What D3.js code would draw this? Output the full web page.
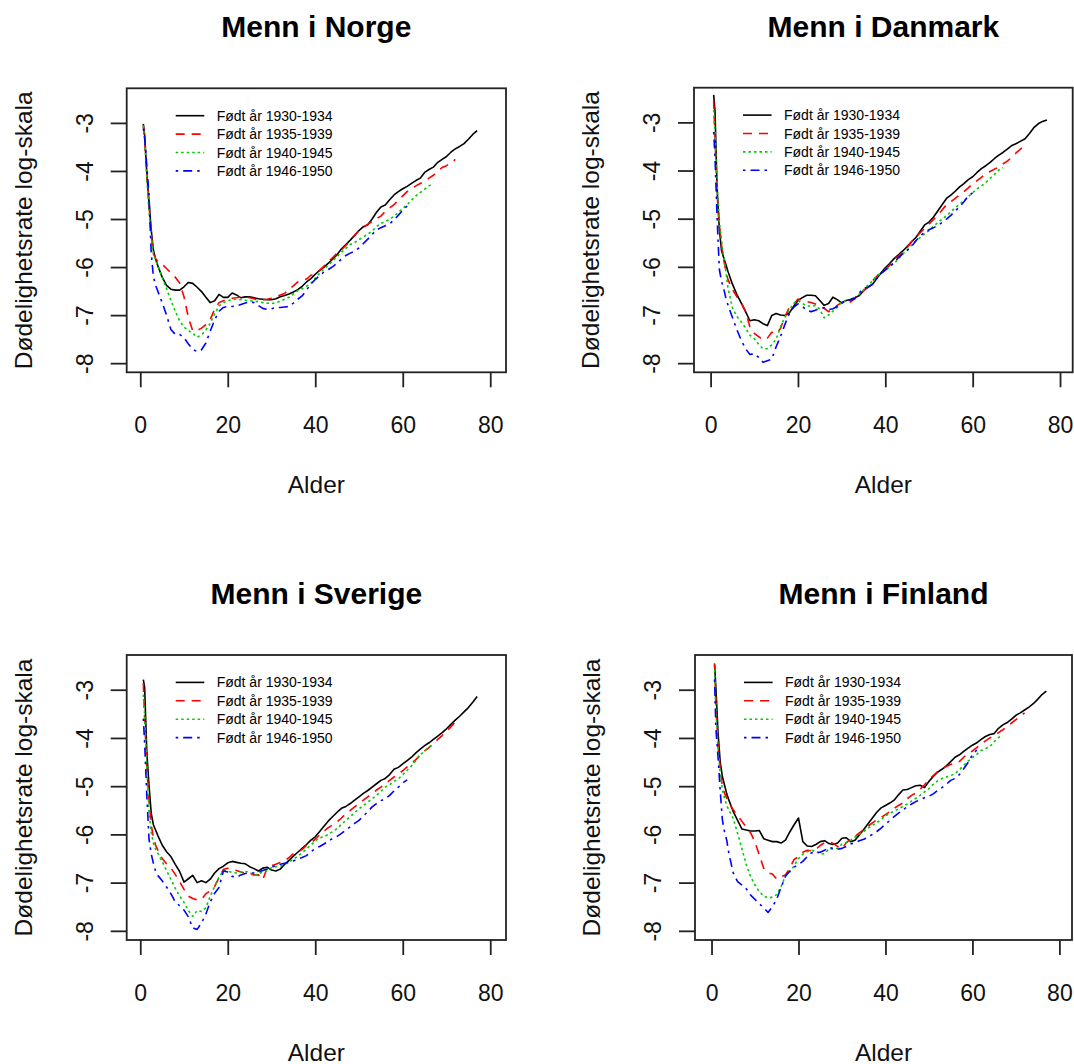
<!DOCTYPE html>
<html>
<head>
<meta charset="utf-8">
<script src="https://cdn.jsdelivr.net/npm/d3@7"></script>
<style>
  body { margin: 0; background: #fff; }
  svg { display: block; font-family: "Liberation Sans", Arial, sans-serif; }
</style>
</head>
<body>
<svg id="chart" width="1074" height="1064"></svg>
<script>
// ages (years) shared by every series; shorter series just stop earlier
const AGES = [0.7, 1, 1.5, 2, 2.5, 3, 3.5, 4,
  5, 6, 7, 8, 9, 10, 11, 12, 13, 14, 15, 16, 17, 18, 19, 20, 21, 22, 23, 24,
  25, 26, 27, 28, 29, 30, 31, 32, 33, 34, 35, 36, 37, 38, 39, 40, 41, 42, 43, 44,
  45, 46, 47, 48, 49, 50, 51, 52, 53, 54, 55, 56, 57, 58, 59, 60, 61, 62, 63, 64,
  65, 66, 67, 68, 69, 70, 71, 72, 73, 74, 75, 76, 77]

const COUNTRIES = ["Norge", "Danmark", "Sverige", "Finland"]
const COHORTS = ["Født år 1930-1934", "Født år 1935-1939", "Født år 1940-1945", "Født år 1946-1950"]
const X_TICKS = [0, 20, 40, 60, 80]
const Y_TICKS = [-8, -7, -6, -5, -4, -3]

// log death rate, Norway
const norge30 = [-3.02, -3.25, -4.05, -4.65, -5.22, -5.65, -5.83, -5.97,
  -6.21, -6.38, -6.46, -6.48, -6.48, -6.41, -6.32, -6.34, -6.42, -6.51,
  -6.63, -6.74, -6.70, -6.57, -6.63, -6.63, -6.54, -6.58, -6.64, -6.62,
  -6.62, -6.64, -6.66, -6.67, -6.68, -6.68, -6.66, -6.62, -6.59, -6.56,
  -6.52, -6.47, -6.40, -6.31, -6.24, -6.15, -6.07, -6.00, -5.92, -5.83,
  -5.74, -5.62, -5.53, -5.44, -5.34, -5.24, -5.16, -5.12, -5.00, -4.86,
  -4.75, -4.71, -4.60, -4.50, -4.43, -4.37, -4.32, -4.26, -4.20, -4.15,
  -4.03, -3.97, -3.92, -3.82, -3.76, -3.70, -3.61, -3.54, -3.49, -3.43,
  -3.34, -3.24, -3.16]
const norge35 = [-3.06, -3.35, -4.10, -4.70, -5.30, -5.72, -5.82, -5.88,
  -5.94, -6.03, -6.12, -6.21, -6.33, -6.62, -7.05, -7.33, -7.32, -7.27,
  -7.20, -7.09, -6.88, -6.74, -6.70, -6.68, -6.65, -6.64, -6.62, -6.62,
  -6.64, -6.66, -6.69, -6.68, -6.67, -6.65, -6.63, -6.58, -6.55, -6.46,
  -6.39, -6.31, -6.28, -6.25, -6.17, -6.14, -6.07, -5.98, -5.89, -5.80,
  -5.71, -5.64, -5.55, -5.45, -5.34, -5.24, -5.18, -5.11, -5.05, -4.99,
  -4.94, -4.84, -4.77, -4.70, -4.61, -4.52, -4.43, -4.37, -4.31, -4.26,
  -4.22, -4.15, -4.09, -4.00, -3.93, -3.89, -3.84, -3.76]
const norge40 = [-3.05, -3.35, -4.15, -4.85, -5.35, -5.72, -5.85, -5.97,
  -6.21, -6.45, -6.69, -6.92, -7.12, -7.25, -7.32, -7.38, -7.46, -7.41,
  -7.31, -7.17, -6.97, -6.81, -6.74, -6.70, -6.68, -6.67, -6.68, -6.69,
  -6.70, -6.71, -6.72, -6.74, -6.75, -6.76, -6.74, -6.71, -6.67, -6.63,
  -6.56, -6.49, -6.45, -6.40, -6.34, -6.23, -6.13, -6.04, -5.96, -5.87,
  -5.78, -5.69, -5.61, -5.53, -5.49, -5.43, -5.37, -5.32, -5.25, -5.16,
  -5.09, -5.05, -5.01, -4.94, -4.86, -4.78, -4.70, -4.61, -4.52, -4.45,
  -4.38, -4.31, -4.26]
const norge46 = [-3.12, -3.30, -3.90, -4.50, -5.70, -6.20, -6.38, -6.50,
  -6.74, -7.00, -7.30, -7.40, -7.40, -7.47, -7.60, -7.71, -7.76, -7.72,
  -7.58, -7.33, -7.10, -6.92, -6.84, -6.82, -6.82, -6.81, -6.78, -6.75,
  -6.72, -6.74, -6.80, -6.86, -6.88, -6.87, -6.84, -6.84, -6.83, -6.82,
  -6.75, -6.67, -6.60, -6.48, -6.35, -6.26, -6.18, -6.10, -6.05, -5.99,
  -5.92, -5.83, -5.76, -5.71, -5.67, -5.60, -5.51, -5.42, -5.32, -5.23,
  -5.18, -5.14, -5.10, -5.02, -4.92, -4.82, -4.73]

// Denmark
const danmark30 = [-2.43, -2.75, -4.40, -5.22, -5.66, -5.81, -5.95, -6.10,
  -6.36, -6.57, -6.75, -6.93, -7.12, -7.10, -7.12, -7.18, -7.22, -7.01,
  -6.97, -7.00, -7.01, -6.96, -6.82, -6.70, -6.64, -6.59, -6.59, -6.60,
  -6.70, -6.80, -6.76, -6.63, -6.68, -6.75, -6.70, -6.68, -6.64, -6.60,
  -6.50, -6.42, -6.37, -6.25, -6.13, -6.02, -5.93, -5.83, -5.75, -5.67,
  -5.58, -5.48, -5.39, -5.26, -5.13, -5.07, -4.97, -4.84, -4.71, -4.58,
  -4.51, -4.43, -4.34, -4.27, -4.19, -4.13, -4.04, -3.96, -3.90, -3.83,
  -3.75, -3.68, -3.62, -3.55, -3.48, -3.44, -3.39, -3.34, -3.23, -3.11,
  -3.03, -2.98, -2.95]
const danmark35 = [-2.54, -3.30, -4.50, -5.10, -5.55, -5.85, -6.10, -6.27,
  -6.47, -6.62, -6.74, -6.92, -7.25, -7.38, -7.45, -7.52, -7.48, -7.36,
  -7.39, -7.28, -7.04, -6.85, -6.78, -6.67, -6.69, -6.72, -6.74, -6.77,
  -6.81, -6.86, -6.93, -6.90, -6.80, -6.74, -6.76, -6.73, -6.66, -6.57,
  -6.50, -6.41, -6.30, -6.20, -6.11, -6.05, -5.97, -5.84, -5.78, -5.69,
  -5.60, -5.48, -5.38, -5.29, -5.20, -5.11, -5.02, -4.93, -4.82, -4.71,
  -4.65, -4.58, -4.51, -4.44, -4.36, -4.27, -4.21, -4.14, -4.07, -4.02,
  -3.97, -3.93, -3.86, -3.80, -3.72, -3.63, -3.55, -3.47]
const danmark40 = [-2.74, -3.20, -4.30, -5.05, -5.45, -5.80, -6.10, -6.45,
  -6.85, -7.03, -7.14, -7.27, -7.42, -7.49, -7.61, -7.70, -7.70, -7.62,
  -7.50, -7.25, -7.05, -6.90, -6.76, -6.70, -6.76, -6.81, -6.82, -6.80,
  -6.88, -7.06, -7.00, -6.92, -6.84, -6.73, -6.71, -6.70, -6.65, -6.57,
  -6.48, -6.38, -6.30, -6.19, -6.14, -6.07, -6.00, -5.93, -5.84, -5.73,
  -5.65, -5.55, -5.46, -5.39, -5.31, -5.25, -5.16, -5.08, -5.01, -4.94,
  -4.86, -4.77, -4.70, -4.63, -4.54, -4.46, -4.38, -4.32, -4.25, -4.16,
  -4.08, -3.99, -3.94]
const danmark46 = [-3.20, -3.70, -5.00, -6.05, -6.30, -6.45, -6.65, -6.80,
  -7.05, -7.30, -7.52, -7.70, -7.82, -7.80, -7.88, -7.98, -7.95, -7.92,
  -7.66, -7.45, -7.20, -6.98, -6.84, -6.77, -6.82, -6.90, -6.93, -6.90,
  -6.86, -6.85, -6.89, -6.87, -6.82, -6.75, -6.71, -6.69, -6.66, -6.55,
  -6.44, -6.43, -6.36, -6.24, -6.14, -6.07, -5.99, -5.91, -5.81, -5.73,
  -5.66, -5.58, -5.46, -5.36, -5.28, -5.23, -5.19, -5.14, -5.08, -5.01,
  -4.93, -4.84, -4.75, -4.65, -4.53, -4.46]

// Sweden
const sverige30 = [-2.79, -2.95, -4.30, -4.98, -5.56, -5.80, -5.91, -6.02,
  -6.22, -6.36, -6.46, -6.62, -6.77, -6.99, -6.92, -6.85, -7.00, -6.96,
  -7.00, -6.93, -6.80, -6.71, -6.66, -6.59, -6.56, -6.58, -6.60, -6.61,
  -6.67, -6.71, -6.76, -6.70, -6.68, -6.74, -6.76, -6.72, -6.62, -6.54,
  -6.45, -6.37, -6.29, -6.21, -6.12, -6.05, -5.94, -5.83, -5.72, -5.63,
  -5.54, -5.46, -5.42, -5.36, -5.29, -5.22, -5.15, -5.09, -5.02, -4.95,
  -4.88, -4.84, -4.76, -4.65, -4.61, -4.54, -4.47, -4.40, -4.31, -4.23,
  -4.16, -4.10, -4.03, -3.96, -3.89, -3.81, -3.72, -3.63, -3.55, -3.46,
  -3.37, -3.26, -3.14]
const sverige35 = [-2.86, -3.60, -4.60, -5.30, -5.80, -6.06, -6.22, -6.32,
  -6.50, -6.61, -6.70, -6.83, -6.98, -7.14, -7.28, -7.33, -7.36, -7.35,
  -7.23, -7.17, -7.08, -6.90, -6.73, -6.70, -6.73, -6.75, -6.78, -6.80,
  -6.82, -6.84, -6.84, -6.94, -6.70, -6.65, -6.62, -6.58, -6.55, -6.48,
  -6.40, -6.37, -6.31, -6.23, -6.18, -6.10, -6.01, -5.93, -5.86, -5.80,
  -5.74, -5.66, -5.57, -5.50, -5.43, -5.36, -5.29, -5.22, -5.15, -5.08,
  -5.02, -4.95, -4.88, -4.81, -4.75, -4.68, -4.60, -4.53, -4.45, -4.35,
  -4.27, -4.20, -4.12, -4.03, -3.95, -3.86, -3.77, -3.67]
const sverige40 = [-3.10, -3.50, -4.60, -5.55, -5.95, -6.18, -6.30, -6.39,
  -6.56, -6.75, -6.93, -7.12, -7.28, -7.41, -7.58, -7.70, -7.58, -7.60,
  -7.52, -7.28, -7.08, -6.89, -6.75, -6.76, -6.79, -6.80, -6.78, -6.77,
  -6.78, -6.86, -6.82, -6.78, -6.75, -6.69, -6.67, -6.66, -6.62, -6.57,
  -6.52, -6.45, -6.38, -6.30, -6.22, -6.14, -6.07, -6.05, -6.00, -5.94,
  -5.88, -5.79, -5.71, -5.63, -5.55, -5.47, -5.40, -5.33, -5.26, -5.19,
  -5.11, -5.02, -4.97, -4.90, -4.85, -4.76, -4.67, -4.58, -4.47, -4.35,
  -4.27, -4.19, -4.12]
const sverige46 = [-3.60, -4.10, -5.20, -6.10, -6.40, -6.60, -6.76, -6.85,
  -6.96, -7.09, -7.23, -7.40, -7.48, -7.57, -7.71, -7.94, -7.97, -7.84,
  -7.65, -7.40, -7.22, -7.10, -6.76, -6.78, -6.87, -6.89, -6.84, -6.81,
  -6.80, -6.80, -6.78, -6.75, -6.72, -6.68, -6.65, -6.62, -6.60, -6.58,
  -6.55, -6.51, -6.48, -6.44, -6.36, -6.29, -6.25, -6.20, -6.14, -6.08,
  -6.04, -5.98, -5.91, -5.84, -5.77, -5.71, -5.62, -5.53, -5.43, -5.36,
  -5.30, -5.26, -5.19, -5.10, -5.02, -4.93, -4.87]

// Finland
const finland30 = [-2.48, -2.95, -3.90, -4.50, -4.80, -4.98, -5.16, -5.29,
  -5.53, -5.71, -5.89, -5.91, -5.93, -5.93, -5.92, -6.09, -6.12, -6.15,
  -6.15, -6.18, -6.12, -5.95, -5.80, -5.66, -6.15, -6.24, -6.25, -6.21,
  -6.15, -6.13, -6.19, -6.21, -6.18, -6.08, -6.07, -6.15, -6.12, -6.01,
  -5.90, -5.78, -5.66, -5.54, -5.45, -5.40, -5.35, -5.29, -5.18, -5.08,
  -5.07, -5.03, -4.99, -4.98, -5.03, -4.90, -4.80, -4.71, -4.65, -4.58,
  -4.49, -4.40, -4.35, -4.28, -4.21, -4.15, -4.10, -4.03, -3.97, -3.93,
  -3.91, -3.80, -3.73, -3.68, -3.61, -3.53, -3.48, -3.42, -3.36, -3.29,
  -3.20, -3.10, -3.03]
const finland35 = [-2.45, -3.30, -4.15, -4.65, -5.01, -5.15, -5.25, -5.35,
  -5.49, -5.61, -5.73, -5.85, -5.97, -6.16, -6.43, -6.70, -6.80, -6.82,
  -6.93, -6.88, -6.84, -6.70, -6.52, -6.46, -6.37, -6.33, -6.34, -6.31,
  -6.23, -6.17, -6.15, -6.19, -6.25, -6.30, -6.17, -6.10, -6.04, -5.97,
  -5.90, -5.83, -5.76, -5.70, -5.65, -5.59, -5.53, -5.46, -5.40, -5.35,
  -5.26, -5.19, -5.14, -5.06, -4.97, -4.86, -4.78, -4.70, -4.65, -4.59,
  -4.55, -4.52, -4.49, -4.40, -4.33, -4.27, -4.20, -4.13, -4.06, -4.00,
  -3.95, -3.89, -3.83, -3.76, -3.69, -3.62, -3.55, -3.48]
const finland40 = [-2.59, -3.40, -4.20, -4.75, -5.07, -5.25, -5.40, -5.50,
  -5.67, -5.98, -6.30, -6.63, -6.88, -7.05, -7.19, -7.28, -7.32, -7.30,
  -7.25, -7.08, -6.86, -6.78, -6.65, -6.50, -6.41, -6.36, -6.33, -6.35,
  -6.41, -6.40, -6.30, -6.30, -6.29, -6.20, -6.17, -6.12, -6.06, -6.00,
  -5.94, -5.87, -5.81, -5.76, -5.69, -5.62, -5.56, -5.52, -5.47, -5.42,
  -5.37, -5.31, -5.25, -5.19, -5.12, -5.05, -4.96, -4.89, -4.84, -4.81,
  -4.78, -4.74, -4.66, -4.57, -4.48, -4.41, -4.34, -4.26, -4.22, -4.18,
  -4.08, -3.99, -3.95]
const finland46 = [-2.79, -3.80, -4.40, -5.10, -5.70, -5.95, -6.12, -6.40,
  -6.80, -6.98, -7.05, -7.13, -7.26, -7.35, -7.44, -7.52, -7.62, -7.50,
  -7.34, -7.10, -6.87, -6.76, -6.68, -6.62, -6.56, -6.46, -6.38, -6.37,
  -6.37, -6.33, -6.27, -6.29, -6.31, -6.29, -6.25, -6.20, -6.17, -6.13,
  -6.10, -6.06, -6.00, -5.94, -5.87, -5.79, -5.71, -5.63, -5.56, -5.49,
  -5.43, -5.37, -5.32, -5.28, -5.24, -5.21, -5.16, -5.09, -5.03, -4.96,
  -4.88, -4.84, -4.76, -4.64, -4.51, -4.35, -4.25]

const SERIES = [
  [norge30, norge35, norge40, norge46],
  [danmark30, danmark35, danmark40, danmark46],
  [sverige30, sverige35, sverige40, sverige46],
  [finland30, finland35, finland40, finland46]
]

/* line look per cohort: solid black, dashed red, dotted green, dot-dash blue */
const LINE_STYLE = [
  { color: "#000000", dash: null },
  { color: "#ff0000", dash: "9,7" },
  { color: "#00cd00", dash: "2.5,3" },
  { color: "#0000ff", dash: "2.5,5,9,5" }
]

/* plot box of every panel in pixels, plus the x range R ended up with */
const BOXES = [
  { left: 126.7, top: 88.3, right: 506, bottom: 372.3, xDomain: [-3.1, 83.6] },
  { left: 694, top: 87.7, right: 1072.7, bottom: 372.3, xDomain: [-3.8, 82.9] },
  { left: 126.7, top: 655, right: 506, bottom: 940, xDomain: [-3.1, 83.6] },
  { left: 695, top: 655, right: 1072, bottom: 940, xDomain: [-3.8, 82.9] }
]
const yDomain = [-8.19, -2.28]

const svg = d3.select("#chart")

BOXES.forEach((box, p) => {
  const x = d3.scaleLinear().domain(box.xDomain).range([box.left, box.right])
  const y = d3.scaleLinear().domain(yDomain).range([box.bottom, box.top])
  const g = svg.append("g")
  const midX = (box.left + box.right) / 2
  const midY = (box.top + box.bottom) / 2

  // curves
  const line = d3.line()
    .x((d, i) => x(AGES[i]))
    .y(d => y(d))

  SERIES[p].forEach((values, s) => {
    g.append("path")
      .datum(values)
      .attr("d", line)
      .attr("fill", "none")
      .attr("stroke", LINE_STYLE[s].color)
      .attr("stroke-width", 1.6)
      .attr("stroke-dasharray", LINE_STYLE[s].dash)
      .attr("stroke-linejoin", "round")
  })

  // box
  g.append("rect")
    .attr("x", box.left)
    .attr("y", box.top)
    .attr("width", box.right - box.left)
    .attr("height", box.bottom - box.top)
    .attr("fill", "none")
    .attr("stroke", "#222")
    .attr("stroke-width", 1.8)

  // x axis
  const xAxis = g.append("g")
    .attr("transform", "translate(0," + box.bottom + ")")
    .call(d3.axisBottom(x).tickValues(X_TICKS).tickSize(15).tickFormat(d => String(d)))
  xAxis.select(".domain").remove()
  xAxis.selectAll("line").attr("stroke", "#222").attr("stroke-width", 1.8)
  xAxis.selectAll("text")
    .attr("y", 61)
    .attr("dy", null)
    .attr("fill", "#111")
    .style("font-size", "23px")

  // y axis, labels turned like R does by default
  const yAxis = g.append("g")
    .attr("transform", "translate(" + box.left + ",0)")
    .call(d3.axisLeft(y).tickValues(Y_TICKS).tickSize(16).tickFormat(d => String(d)))
  yAxis.select(".domain").remove()
  yAxis.selectAll("line").attr("stroke", "#222").attr("stroke-width", 1.8)
  yAxis.selectAll("text")
    .attr("x", null)
    .attr("dy", null)
    .attr("transform", "translate(-34,0) rotate(-90)")
    .attr("text-anchor", "middle")
    .attr("fill", "#111")
    .style("font-size", "23px")

  // titles
  g.append("text")
    .attr("x", midX)
    .attr("y", box.top - 51)
    .attr("text-anchor", "middle")
    .style("font-size", "30px")
    .style("font-weight", "bold")
    .text("Menn i " + COUNTRIES[p])

  g.append("text")
    .attr("x", midX)
    .attr("y", box.bottom + 120.5)
    .attr("text-anchor", "middle")
    .attr("fill", "#111")
    .style("font-size", "24.5px")
    .text("Alder")

  g.append("text")
    .attr("transform", "translate(" + (box.left - 95) + "," + midY + ") rotate(-90)")
    .attr("text-anchor", "middle")
    .attr("fill", "#111")
    .style("font-size", "24.5px")
    .text("Dødelighetsrate log-skala")

  // legend
  COHORTS.forEach((label, s) => {
    const ly = box.top + 27.4 + s * 18.4
    g.append("line")
      .attr("x1", box.left + 49)
      .attr("x2", box.left + 77.6)
      .attr("y1", ly)
      .attr("y2", ly)
      .attr("stroke", LINE_STYLE[s].color)
      .attr("stroke-width", 1.6)
      .attr("stroke-dasharray", LINE_STYLE[s].dash)
    g.append("text")
      .attr("x", box.left + 90)
      .attr("y", ly)
      .attr("dominant-baseline", "central")
      .style("font-size", "14px")
      .text(label)
  })
})
</script>
</body>
</html>
